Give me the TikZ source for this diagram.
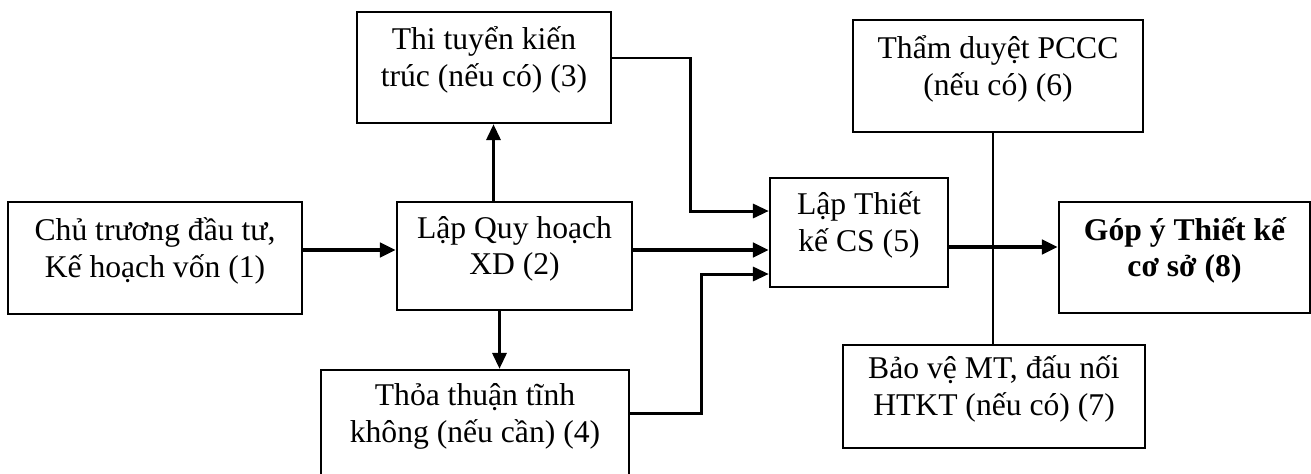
\documentclass[tikz,border=0pt]{standalone}
\usepackage{fontspec}
\setmainfont{Liberation Serif}
\usepackage{tikz}
\usetikzlibrary{arrows.meta}

\begin{document}
\begin{tikzpicture}[
		box/.style={draw, line width=1.4pt, align=center, inner sep=0pt,
			font=\fontsize{18}{21}\selectfont, text depth=12pt},
		arr/.style={line width=1.7pt, -{Triangle[length=9pt,width=8pt]}},
		mainarr/.style={arr, line width=2.3pt}
	]
		\useasboundingbox (0,0) rectangle (26.22,-9.46);
		\clip (0,0) rectangle (26.22,-9.46);
		\node[box, minimum width=5.88cm, minimum height=2.24cm] (b1) at (3.10,-5.16) {Chủ trương đầu tư,\\Kế hoạch vốn (1)};
		\node[box, minimum width=4.70cm, minimum height=2.16cm] (b2) at (10.29,-5.12) {Lập Quy hoạch\\XD (2)};
		\node[box, minimum width=5.08cm, minimum height=2.22cm] (b3) at (9.68,-1.35) {Thi tuyển kiến\\trúc (nếu có) (3)};
		\node[box, minimum width=6.16cm, minimum height=2.14cm] (b4) at (9.50,-8.47) {Thỏa thuận tĩnh\\không (nếu cần) (4)};
		\node[box, minimum width=3.56cm, minimum height=2.18cm] (b5) at (17.18,-4.65) {Lập Thiết\\kế CS (5)};
		\node[box, minimum width=5.80cm, minimum height=2.24cm] (b6) at (19.96,-1.52) {Thẩm duyệt PCCC\\(nếu có) (6)};
		\node[box, minimum width=6.04cm, minimum height=2.06cm] (b7) at (19.88,-7.93) {Bảo vệ MT, đấu nối\\HTKT (nếu có) (7)};
		\node[box, minimum width=5.02cm, minimum height=2.22cm, font=\fontsize{18}{21}\selectfont\bfseries] (b8) at (23.69,-5.15) {Góp ý Thiết kế\\cơ sở (8)};
		%
		% main line
		\draw[mainarr] ([yshift=1.6mm]b1.east) -- ([yshift=1.6mm]b1.east -| b2.west);
		\draw[mainarr] ([yshift=1.2mm]b2.east) -- ([yshift=1.2mm]b2.east -| b5.west);
		\draw[mainarr] ([yshift=-2.9mm]b5.east) -- ([yshift=-2.9mm]b5.east -| b8.west);
		% branches of (2)
		\draw[arr] ([xshift=-4.2mm]b2.north) -- ([xshift=-4.2mm]b2.north |- b3.south);
		\draw[arr] ([xshift=-3mm]b2.south) -- ([xshift=-3mm]b2.south |- b4.north);
		% into (5)
		\draw[arr] ([yshift=1.9mm]b3.east) -| (13.80,-4.22) -- (13.80,-4.22 -| b5.west);
		\draw[arr] ([yshift=2.1mm]b4.east) -| (14.02,-5.48) -- (14.02,-5.48 -| b5.west);
		% (6) -- (7)
		\draw[line width=1.4pt] ([xshift=-1mm]b6.south) -- ([xshift=-1mm]b6.south |- b7.north);
	\end{tikzpicture}
\end{document}
